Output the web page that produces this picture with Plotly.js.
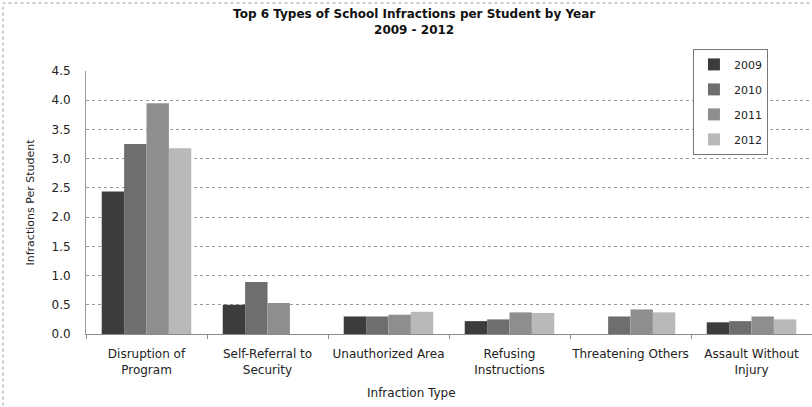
<!DOCTYPE html>
<html>
<head>
<meta charset="utf-8">
<script src="https://cdn.plot.ly/plotly-3.0.1.min.js"></script>
<style>
  html, body { margin: 0; padding: 0; background: #ffffff; }
  #chart { width: 812px; height: 407px; }
</style>
</head>
<body>
<div id="chart"></div>
<script>
// Infraction categories (x axis)
var categories = [
  'Disruption of<br>Program',
  'Self-Referral to<br>Security',
  'Unauthorized Area',
  'Refusing<br>Instructions',
  'Threatening Others',
  'Assault Without<br>Injury'
];

// Infractions per student, one array per school year (null = no value reported)
var years = ['2009', '2010', '2011', '2012'];
var values2009 = [2.44, 0.50, 0.30, 0.22, null, 0.20];
var values2010 = [3.25, 0.89, 0.30, 0.25, 0.30, 0.22];
var values2011 = [3.95, 0.53, 0.33, 0.37, 0.42, 0.30];
var values2012 = [3.18, null, 0.38, 0.36, 0.37, 0.25];

var yTickValues = [0, 0.5, 1, 1.5, 2, 2.5, 3, 3.5, 4, 4.5];
var yTickLabels = ['0.0', '0.5', '1.0', '1.5', '2.0', '2.5', '3.0', '3.5', '4.0', '4.5'];

var seriesValues = [values2009, values2010, values2011, values2012];
var seriesColors = ['#3c3c3c', '#6e6e6e', '#8e8e8e', '#b9b9b9'];

var traces = years.map(function (yr, i) {
  return {
    type: 'bar',
    name: yr,
    x: categories,
    y: seriesValues[i],
    legendgroup: yr,
    marker: { color: seriesColors[i], line: { width: 0 } },
    hoverinfo: 'x+y+name'
  };
});

var baseFont = 'DejaVu Sans, Liberation Sans, sans-serif';

var layout = {
  width: 812,
  height: 407,
  margin: { l: 86, r: 0, t: 71, b: 73, pad: 0 },
  paper_bgcolor: '#ffffff',
  plot_bgcolor: '#ffffff',
  barmode: 'group',
  bargap: 0.26,
  bargroupgap: 0,
  title: {
    text: '<b>Top 6 Types of School Infractions per Student by Year<br>2009 - 2012</b>',
    font: { family: baseFont, size: 12, color: '#111111' },
    x: 0.51,
    xanchor: 'center',
    y: 0.956,
    yanchor: 'top'
  },
  xaxis: {
    type: 'category',
    showgrid: false,
    showline: true,
    linecolor: '#8a8a8a',
    linewidth: 1,
    ticks: 'outside',
    tickson: 'boundaries',
    ticklen: 4,
    tickcolor: '#8a8a8a',
    tickangle: 0,
    ticklabelstandoff: 9,
    tickfont: { family: baseFont, size: 12, color: '#222222' },
    automargin: false
  },
  yaxis: {
    range: [0, 4.5],
    tickvals: yTickValues,
    ticktext: yTickLabels,
    showgrid: true,
    gridcolor: '#9a9a9a',
    griddash: 'dot',
    gridwidth: 1,
    zeroline: false,
    showline: true,
    linecolor: '#9a9a9a',
    ticks: '',
    ticklabelstandoff: 12,
    tickfont: { family: baseFont, size: 12, color: '#222222' },
    title: {
      text: 'Infractions Per Student',
      font: { family: baseFont, size: 11, color: '#222222' },
      standoff: 14
    },
    automargin: false
  },
  annotations: [
    {
      // x-axis title, set slightly left of the plot centre
      text: 'Infraction Type',
      xref: 'paper', yref: 'paper',
      x: 0.448, y: -0.224,
      xanchor: 'center', yanchor: 'middle',
      showarrow: false,
      font: { family: baseFont, size: 12, color: '#222222' }
    }
  ],
  legend: {
    x: 0.836,
    y: 1.084,
    xanchor: 'left',
    yanchor: 'top',
    bgcolor: '#ffffff',
    bordercolor: '#777777',
    borderwidth: 1,
    itemwidth: 30,
    tracegroupgap: 6,
    font: { family: baseFont, size: 11, color: '#222222' }
  },
  shapes: [
    {
      // dotted frame around the whole chart
      type: 'rect',
      xref: 'paper', yref: 'paper',
      x0: -0.1143, x1: 1.01,
      y0: -0.30, y1: 1.2586,
      line: { color: '#999999', width: 1, dash: 'dot' },
      fillcolor: 'rgba(0,0,0,0)',
      layer: 'below'
    }
  ],
  showlegend: true
};

Plotly.newPlot('chart', traces, layout, { displayModeBar: false, staticPlot: true });
</script>
</body>
</html>
